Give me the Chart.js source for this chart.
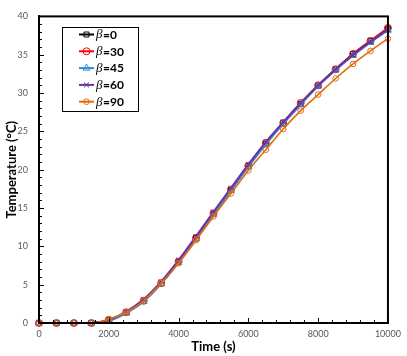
<!DOCTYPE html>
<html>
<head>
<meta charset="utf-8">
<script src="https://cdn.jsdelivr.net/npm/chart.js@4"></script>
<style>
  body { margin: 0; background: #fff; }
</style>
</head>
<body>
<canvas id="myChart" width="407" height="356"></canvas>
<script>
// time steps (s)
const timeSteps = [0,500,1000,1500,2000,2500,3000,3500,4000,4500,5000,5500,6000,6500,7000,7500,8000,8500,9000,9500,10000];

// temperature for each inclination angle
const beta0  = [0,0,0,0,0.4,1.4,2.9,5.2,8.0,11.1,14.3,17.4,20.5,23.4,26.1,28.6,31.0,33.1,35.1,36.8,38.4];
const beta30 = [0,0,0,0,0.4,1.4,2.9,5.2,8.0,11.1,14.3,17.4,20.5,23.5,26.1,28.7,31.0,33.1,35.1,36.8,38.5];
const beta45 = [0,0,0,0,0.3,1.3,2.8,5.1,7.9,11.0,14.2,17.3,20.4,23.3,26.0,28.5,30.9,33.0,34.9,36.6,38.2];
const beta60 = [0,0,0,0,0.4,1.5,3.1,5.4,8.2,11.3,14.5,17.6,20.7,23.6,26.2,28.7,31.0,33.1,35.0,36.7,38.3];
const beta90 = [0,0,0,0,0.5,1.4,2.9,5.2,7.8,10.8,13.9,16.9,19.9,22.6,25.3,27.7,29.8,31.9,33.8,35.5,37.1];

const seriesLabels = ['0','30','45','60','90'];
const yTicks = [0,5,10,15,20,25,30,35,40];
const xTicks = [0,2000,4000,6000,8000,10000];

const toXY = arr => arr.map((v, i) => ({x: timeSteps[i], y: v}));

const styles = [
  {color: '#000000', point: 'rect',     radius: 3.5},
  {color: '#FF0000', point: 'circle',   radius: 3.5},
  {color: '#2E8BD8', point: 'triangle', radius: 4},
  {color: '#7030A0', point: 'crossRot', radius: 3.5},
  {color: '#E26B0A', point: 'circle',   radius: 2.8},
];
const allSeries = [beta0, beta30, beta45, beta60, beta90];

const datasets = allSeries.map((s, i) => ({
  label: seriesLabels[i],
  data: toXY(s),
  borderColor: styles[i].color,
  backgroundColor: 'transparent',
  borderWidth: i === 4 ? 1.6 : 2,
  pointStyle: styles[i].point,
  pointRadius: styles[i].radius,
  pointBorderColor: styles[i].color,
  pointBackgroundColor: 'transparent',
  pointBorderWidth: 1,
  cubicInterpolationMode: 'monotone',
  clip: false,
  order: 5 - i
}));

// frame, inward ticks and legend box
const framePlugin = {
  id: 'frame',
  afterDraw(chart) {
    const c = chart.ctx;
    const a = chart.chartArea;
    const xs = chart.scales.x, ys = chart.scales.y;
    c.save();
    c.strokeStyle = '#000';
    c.lineWidth = 1;
    for (let v = 0; v <= 40; v += 1) {
      const py = Math.round(ys.getPixelForValue(v)) + 0.5;
      const len = v % 5 === 0 ? 5 : 3;
      c.beginPath(); c.moveTo(a.left, py); c.lineTo(a.left + len, py); c.stroke();
    }
    for (let v = 0; v <= 10000; v += 400) {
      const px = Math.round(xs.getPixelForValue(v)) + 0.5;
      const len = v % 2000 === 0 ? 5 : 3;
      c.beginPath(); c.moveTo(px, a.bottom); c.lineTo(px, a.bottom - len); c.stroke();
    }
    c.lineWidth = 2;
    c.strokeRect(a.left, a.top, a.right - a.left, a.bottom - a.top);

    // legend
    const lx = 62, ly = 27, lw = 76, lh = 84;
    c.fillStyle = '#fff';
    c.fillRect(lx, ly, lw, lh);
    c.lineWidth = 1;
    c.strokeRect(lx + 0.5, ly + 0.5, lw, lh);
    chart.data.datasets.forEach((ds, i) => {
      const yy = 34.5 + i * 16.8;
      c.strokeStyle = ds.borderColor;
      c.lineWidth = 2;
      c.beginPath(); c.moveTo(79, yy); c.lineTo(94, yy); c.stroke();
      c.lineWidth = 1;
      c.fillStyle = 'rgba(0,0,0,0)';
      Chart.helpers.drawPoint(c, {
        pointStyle: ds.pointStyle, radius: ds.pointRadius, rotation: 0, borderWidth: 1
      }, 86.5, yy);
      c.fillStyle = '#000';
      c.textBaseline = 'middle';
      c.textAlign = 'left';
      c.font = 'italic 13px "Liberation Serif"';
      c.fillText('\u03B2', 96, yy + 0.5);
      const bw = c.measureText('\u03B2').width;
      c.font = 'bold 12px Lato';
      c.fillText('=' + ds.label, 96 + bw + 0.5, yy + 0.5);
    });
    c.restore();
  }
};

const ctx = document.getElementById('myChart');
new Chart(ctx, {
  type: 'line',
  data: { datasets },
  plugins: [framePlugin],
  options: {
    responsive: false,
    animation: false,
    layout: { padding: { top: 7, right: 15, bottom: 0, left: 0 } },
    plugins: { legend: { display: false }, tooltip: { enabled: false } },
    scales: {
      x: {
        type: 'linear',
        min: 0, max: 10000,
        afterBuildTicks: s => { s.ticks = xTicks.map(v => ({value: v})); },
        afterFit: s => { s.height = 33; },
        grid: { display: false, drawTicks: false },
        border: { display: true, color: '#000', width: 2 },
        ticks: { padding: 6, color: '#595959', font: { family: 'Lato', size: 9 }, maxRotation: 0,
                 callback: v => String(v) },
        title: { display: true, text: 'Time (s)', color: '#000',
                 font: { family: 'Lato', size: 13, weight: 'bold' }, padding: { top: 0, bottom: 1 } }
      },
      y: {
        min: 0, max: 40,
        afterBuildTicks: s => { s.ticks = yTicks.map(v => ({value: v})); },
        afterFit: s => { s.width = 39; },
        grid: { display: false, drawTicks: false },
        border: { display: true, color: '#000', width: 2 },
        ticks: { padding: 11, color: '#595959', font: { family: 'Lato', size: 9 } },
        title: { display: true, text: 'Temperature (\u00B0C)', color: '#000',
                 font: { family: 'Lato', size: 13, weight: 'bold' }, padding: { top: 4, bottom: 0 } }
      }
    }
  }
});
</script>
</body>
</html>
